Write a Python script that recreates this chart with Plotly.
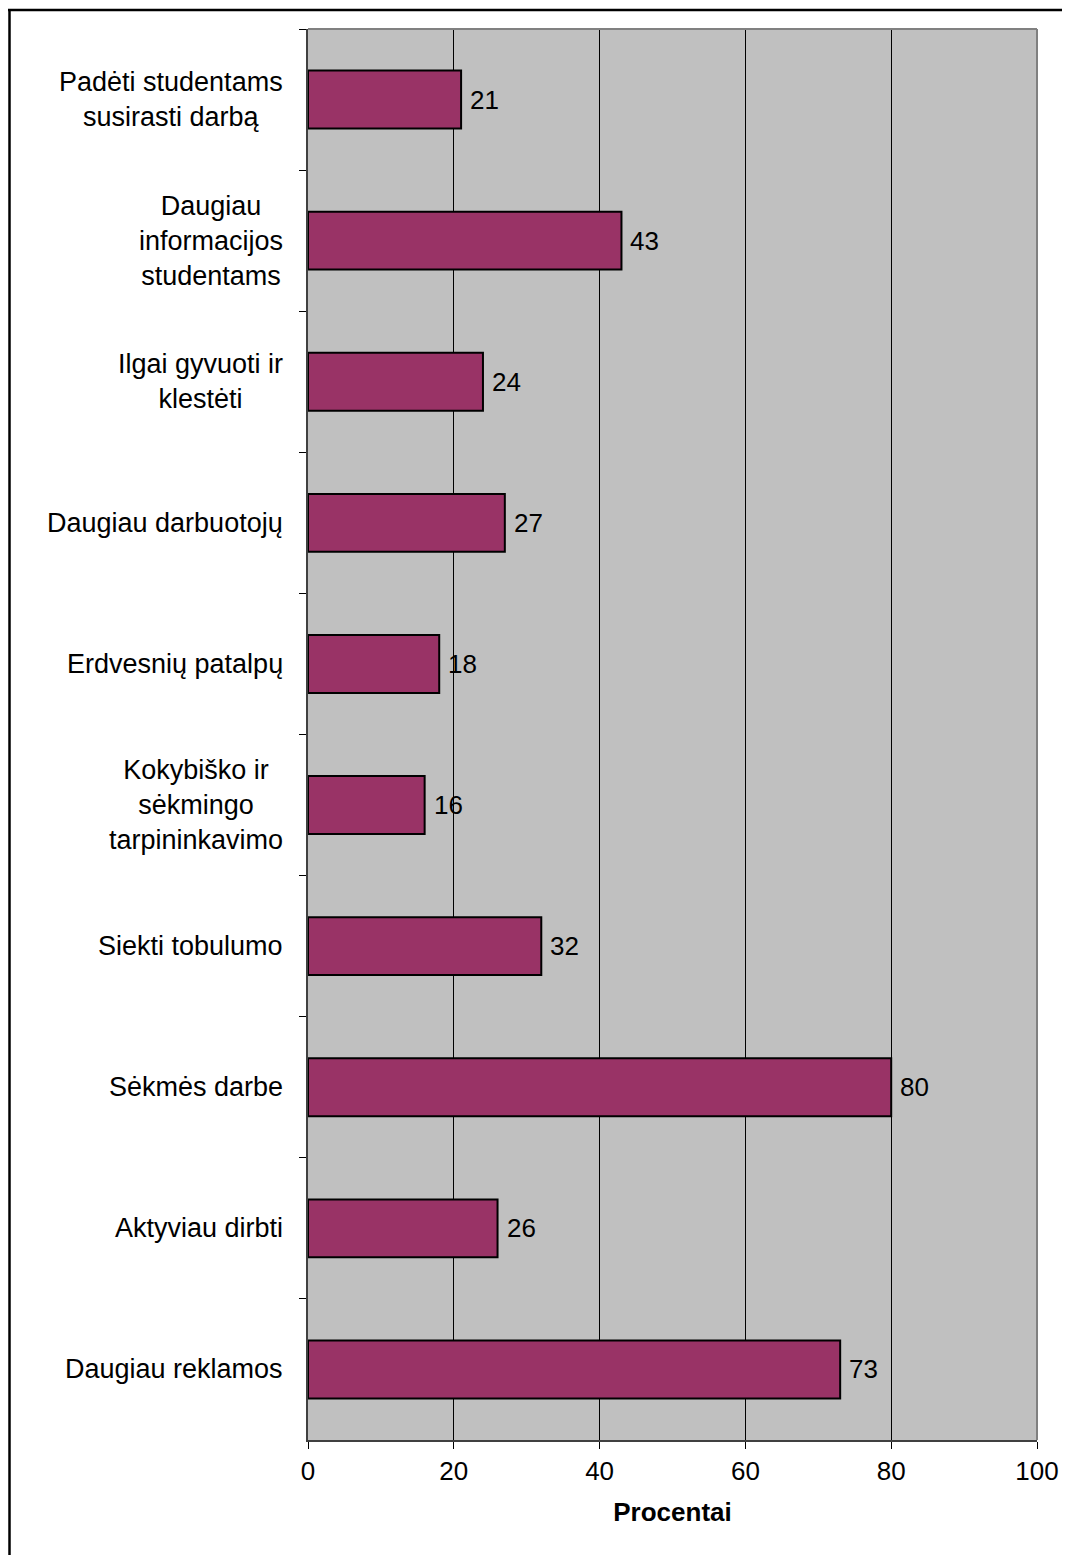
import plotly.graph_objects as go

categories = [
    "Padėti studentams<br>susirasti darbą",
    "Daugiau<br>informacijos<br>studentams",
    "Ilgai gyvuoti ir<br>klestėti",
    "Daugiau darbuotojų",
    "Erdvesnių patalpų",
    "Kokybiško ir<br>sėkmingo<br>tarpininkavimo",
    "Siekti tobulumo",
    "Sėkmės darbe",
    "Aktyviau dirbti",
    "Daugiau reklamos",
]
values = [21, 43, 24, 27, 18, 16, 32, 80, 26, 73]
x_ticks = [0, 20, 40, 60, 80, 100]

# page has an 8px body margin, so the figure is sized to fit inside the window
W, H = 1062, 1547
L, T = 300, 21
pw, ph = 729, 1411
R, B = W - L - pw, H - T - ph

FONT = "Liberation Sans, Arial, sans-serif"

fig = go.Figure()
fig.add_trace(go.Bar(
    y=categories, x=values, orientation="h",
    marker=dict(color="#993366", line=dict(color="black", width=2)),
    width=0.41,
    hoverinfo="x+y",
))

annotations = []
for c in categories:
    annotations.append(dict(
        x=0, xref="paper", y=c, yref="y", text=c, showarrow=False,
        xanchor="right", yanchor="middle", align="center", xshift=-23,
        font=dict(family=FONT, size=27, color="black"),
    ))
for c, v in zip(categories, values):
    annotations.append(dict(
        x=v, xref="x", y=c, yref="y", text=str(v), showarrow=False,
        xanchor="left", yanchor="middle", xshift=7,
        font=dict(family=FONT, size=26, color="black"),
    ))

shapes = [
    dict(type="line", xref="paper", yref="paper", x0=0, x1=1, y0=1, y1=1,
         line=dict(color="#808080", width=2)),
    dict(type="line", xref="paper", yref="paper", x0=1, x1=1, y0=0, y1=1,
         line=dict(color="#808080", width=2)),
    # outer frame (left and top)
    dict(type="line", xref="paper", yref="paper",
         x0=(1.5 - L) / pw, x1=(1.5 - L) / pw,
         y0=(H - B - 1560) / ph, y1=(H - B - 2) / ph,
         line=dict(color="black", width=2.5)),
    dict(type="line", xref="paper", yref="paper",
         x0=(0 - L) / pw, x1=(1070 - L) / pw,
         y0=(H - B - 2) / ph, y1=(H - B - 2) / ph,
         line=dict(color="black", width=2.5)),
]

fig.update_layout(
    width=W, height=H,
    margin=dict(l=L, r=R, t=T, b=B, pad=0),
    paper_bgcolor="white", plot_bgcolor="#C0C0C0",
    showlegend=False,
    annotations=annotations,
    shapes=shapes,
    font=dict(family=FONT, size=25, color="black"),
    xaxis=dict(
        range=[0, 100], tickvals=x_ticks, ticktext=[str(t) for t in x_ticks],
        showgrid=True, gridcolor="black", gridwidth=1,
        showline=True, linecolor="#404040", linewidth=2,
        ticks="outside", ticklen=7, tickcolor="black", tickwidth=1,
        tickfont=dict(family=FONT, size=26, color="black"),
        zeroline=False,
        title=dict(text="<b>Procentai</b>", font=dict(family=FONT, size=26, color="black"),
                   standoff=18),
    ),
    yaxis=dict(
        type="category", autorange="reversed",
        categoryorder="array", categoryarray=categories,
        showticklabels=False,
        showgrid=False, zeroline=False,
        showline=True, linecolor="#404040", linewidth=2,
        ticks="outside", ticklen=7, tickcolor="black", tickwidth=1,
        tickson="boundaries",
    ),
)

fig.write_html("out.html")
